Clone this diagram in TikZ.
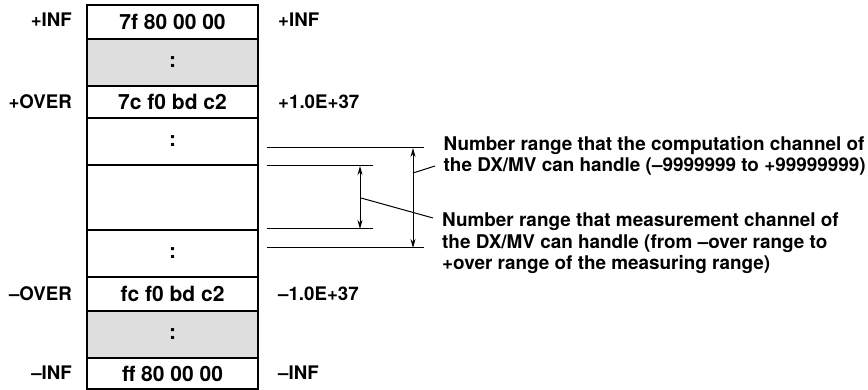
\documentclass[tikz,border=0pt]{standalone}
\usepackage{fontspec}
\setmainfont{TeX Gyre Heros}
\usetikzlibrary{arrows.meta}
\begin{document}
\begin{tikzpicture}[x=1pt,y=-1pt,
  cell/.style={draw=black,line width=1.3pt,minimum width=171pt,inner sep=0pt,outer sep=0pt,font=\bfseries\fontsize{21}{22}\selectfont},
  graycell/.style={cell,fill=black!13},
  lab/.style={font=\bfseries\fontsize{18.7}{21}\selectfont,inner sep=0pt},
  note/.style={font=\bfseries\fontsize{18.9}{21.7}\selectfont,inner sep=0pt,align=left,anchor=base west},
  rl/.style={line width=1pt},
  arr/.style={line width=1pt,{Stealth[length=9pt,width=5pt]}-{Stealth[length=9pt,width=5pt]}}]
\useasboundingbox (0,0) rectangle (868,390);
% cells
\node[cell,minimum height=34pt] (r1) at (172.5,22) {7f 80 00 00};
\node[graycell,minimum height=47pt] (r2) at (172.5,62.5) {:};
\node[cell,minimum height=32pt] (r3) at (172.5,102) {7c f0 bd c2};
\node[cell,minimum height=47pt] (r4) at (172.5,141.5) {:};
\node[cell,minimum height=65pt] (r5) at (172.5,197.5) {};
\node[cell,minimum height=47pt] (r6) at (172.5,253.5) {:};
\node[cell,minimum height=34pt] (r7) at (172.5,294) {fc f0 bd c2};
\node[graycell,minimum height=47pt] (r8) at (172.5,334.5) {:};
\node[cell,minimum height=31pt] (r9) at (172.5,373.5) {ff 80 00 00};
\draw[line width=2pt] (r1.north west) rectangle (r9.south east);
% left labels
\node[lab,anchor=east] (l1) at (72,20) {+INF};
\node[lab,anchor=east] (l2) at (72,102) {+OVER};
\node[lab,anchor=east] (l3) at (72,294) {\textendash OVER};
\node[lab,anchor=east] (l4) at (72,373) {\textendash INF};
% right labels
\node[lab,anchor=west] (v1) at (278,20) {+INF};
\node[lab,anchor=west] (v2) at (278,102) {+1.0E+37};
\node[lab,anchor=west] (v3) at (278,294) {\textendash 1.0E+37};
\node[lab,anchor=west] (v4) at (278,373) {\textendash INF};
% range lines
\coordinate (a1) at (267,148); \coordinate (a2) at (424,148);
\coordinate (b1) at (267,166); \coordinate (b2) at (373,166);
\coordinate (c1) at (267,229); \coordinate (c2) at (373,229);
\coordinate (d1) at (267,248); \coordinate (d2) at (424,248);
\draw[rl] (a1) -- (a2);
\draw[rl] (b1) -- (b2);
\draw[rl] (c1) -- (c2);
\draw[rl] (d1) -- (d2);
\coordinate (oa) at (413,148); \coordinate (ob) at (413,248);
\coordinate (ia) at (360,166); \coordinate (ib) at (360,229);
\draw[arr] (oa) -- (ob);
\draw[arr] (ia) -- (ib);
% notes (base anchor = last line baseline)
\node[note] (n1) at (443.5,171.8) {Number range that the computation channel of\\the DX/MV can handle (\textendash 9999999 to +99999999)};
\node[note] (n2) at (442,270) {Number range that measurement channel of\\the DX/MV can handle (from \textendash over range to\\+over range of the measuring range)};
\coordinate (p1) at (413,173); \coordinate (q1) at (435,166);
\coordinate (p2) at (361,198); \coordinate (q2) at (433,218);
\draw[rl] (p1) -- (q1);
\draw[rl] (p2) -- (q2);
\end{tikzpicture}
\end{document}
